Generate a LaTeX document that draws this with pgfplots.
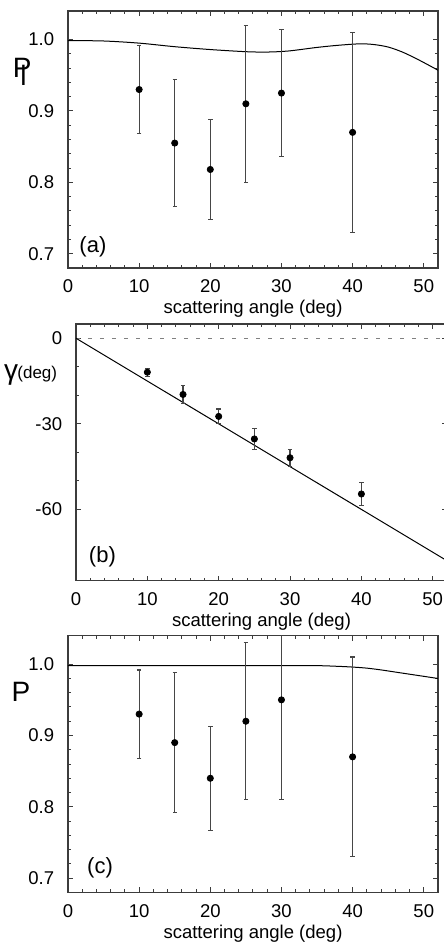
\documentclass[border=0pt]{standalone}
\usepackage{fontspec}
\setmainfont{Liberation Sans}
\usepackage{pgfplots}
\pgfplotsset{compat=1.18}
\definecolor{ax}{RGB}{60,60,60}
\definecolor{eb}{RGB}{70,70,70}
\pgfplotsset{
  panel/.style={
    scale only axis, anchor=south west,
    xmin=0, xmax=52,
    axis line style={ax, line width=0.65pt},
    tick style={ax, line width=0.5pt},
    tick align=inside,
    major tick length=2.5pt, minor tick length=1.5pt,
    xtick={0,10,...,50}, minor x tick num=4,
    tick label style={font=\fontsize{9.25}{11}\selectfont, text=black},
    /pgf/number format/assume math mode=true,
    xticklabel style={yshift=-2.4pt},
    yticklabel style={xshift=-3.4pt},
    xlabel={scattering angle (deg)},
    xlabel style={font=\fontsize{9.25}{11}\selectfont, at={(axis description cs:0.5,0)}, anchor=center, yshift=-20.5pt},
  },
  pol/.style={
    ymin=0.68, ymax=1.04,
    ytick={0.7,0.8,0.9,1.0}, minor y tick num=4,
    yticklabel style={/pgf/number format/.cd, fixed, fixed zerofill, precision=1},
  },
  datapts/.style={only marks, mark=*, mark size=1.55pt, black,
     error bars/.cd, y dir=both, y explicit,
     error bar style={eb, line width=0.6pt},
     error mark options={eb, rotate=90, mark size=1.1pt, line width=0.6pt}},
  curve/.style={black, line width=0.5pt, smooth, no marks},
}
\begin{document}
\begin{tikzpicture}
% ---------------- (a)
\begin{axis}[panel, pol, at={(34pt,337.5pt)}, width=185pt, height=128.5pt]
\addplot[curve] coordinates {(0,0.9986) (5,0.998) (10,0.995) (15,0.990) (20,0.986) (25,0.983) (28,0.9825) (31,0.984) (35,0.989) (38,0.992) (41,0.994) (43,0.993) (45,0.9895) (47,0.9825) (49,0.973) (51,0.9625) (52,0.957)};
\addplot[datapts] coordinates {
 (10,0.930) +- (0,0.062)
 (15,0.855) +- (0,0.089)
 (20,0.818) +- (0,0.070)
 (25,0.910) +- (0,0.110)
 (30,0.925) +- (0,0.089)
 (40,0.870) +- (0,0.140)
};
\node[font=\fontsize{11}{13}\selectfont] at (axis cs:3.5,0.709) {(a)};
\end{axis}
% ---------------- (b)
\begin{axis}[panel, at={(38pt,181.15pt)}, width=185.5pt, height=128.35pt,
  ymin=-85, ymax=5, ytick={-60,-30,0}, minor y tick num=2]
\addplot[gray, line width=0.5pt, dash pattern=on 2pt off 4pt, no marks] coordinates {(0,0) (52,0)};
\addplot[black, line width=0.5pt, no marks] coordinates {(0,0) (52,-78)};
\addplot[datapts] coordinates {
 (10,-11.9) +- (0,1.4)
 (15,-19.7) +- (0,3.1)
 (20,-27.4) +- (0,2.6)
 (25,-35.3) +- (0,3.8)
 (30,-41.9) +- (0,3.0)
 (40,-54.6) +- (0,3.9)
};
\node[font=\fontsize{11}{13}\selectfont] at (axis cs:3.7,-76.7) {(b)};
\end{axis}
% ---------------- (c)
\begin{axis}[panel, pol, at={(34pt,25.35pt)}, width=185pt, height=128.3pt]
\addplot[curve] coordinates {(0,0.998) (10,0.998) (20,0.998) (30,0.998) (35,0.998) (38,0.997) (40,0.996) (42,0.9945) (44,0.992) (46,0.989) (48,0.986) (50,0.983) (52,0.980)};
\addplot[datapts] coordinates {
 (10,0.930) +- (0,0.062)
 (15,0.890) +- (0,0.098)
 (20,0.840) +- (0,0.073)
 (25,0.920) +- (0,0.110)
 (30,0.950) +- (0,0.140)
 (40,0.870) +- (0,0.140)
};
\node[font=\fontsize{11}{13}\selectfont] at (axis cs:4.5,0.714) {(c)};
\end{axis}
% y labels
\node[font=\fontsize{14}{16}\selectfont, anchor=base west, inner sep=0pt] at (6.2pt,432.5pt) {P\kern-5.6pt\raisebox{-3.6pt}{l}};
\node[font=\fontsize{14}{16}\selectfont, inner sep=0pt] at (5.5pt,284pt) {γ};
\node[font=\fontsize{8.5}{10}\selectfont, anchor=west, inner sep=0pt] at (8.5pt,284.5pt) {(deg)};
\node[font=\fontsize{14}{16}\selectfont] at (10.5pt,125.5pt) {P};
\pgfresetboundingbox
\path (0,0) rectangle (222pt,471.5pt);
\end{tikzpicture}
\end{document}
